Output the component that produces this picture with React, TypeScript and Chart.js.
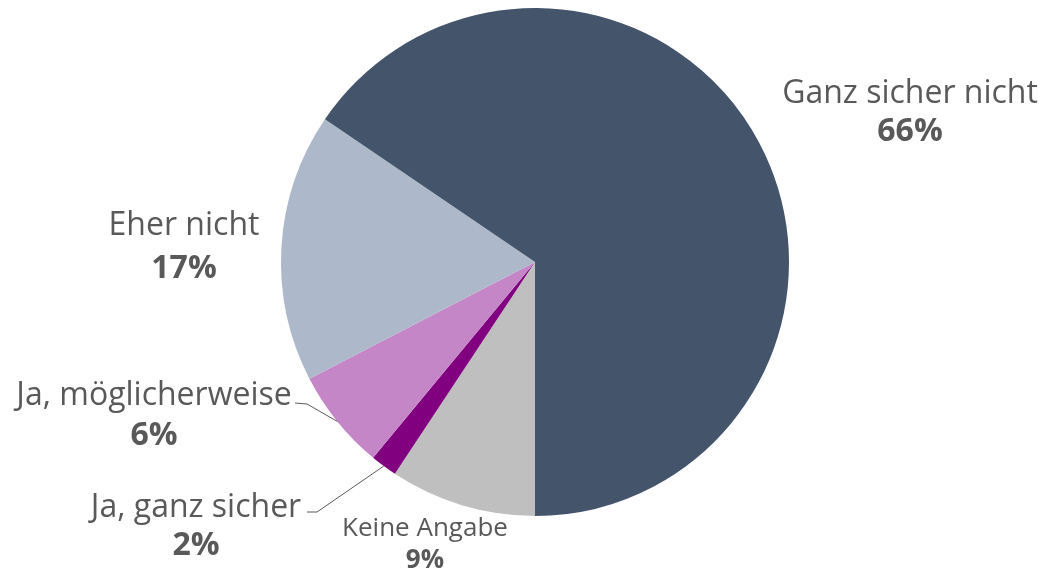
import React, { useEffect, useRef } from "react";
import { Chart, registerables } from "chart.js";

Chart.register(...registerables);

const categories = ["Keine Angabe", "Ja, ganz sicher", "Ja, möglicherweise", "Eher nicht", "Ganz sicher nicht"];
const values = [9.3, 1.7, 6.4, 17.1, 65.5];
const percentLabels = ["9%", "2%", "6%", "17%", "66%"];
const colors = ["#BFBFBF", "#800080", "#C586C7", "#ADB9CA", "#44546A"];

// label layout: offsets relative to pie centre (name baseline, percent baseline), font size
const labelLayout = [
  { dx: -110, nameDy: 274, pctDy: 306, size: 26 },
  { dx: -339, nameDy: 255, pctDy: 293, size: 32, leader: [[-218, 250], [-228, 250]] },
  { dx: -381, nameDy: 143, pctDy: 183, size: 32, leader: [[-228, 142], [-240, 141]] },
  { dx: -351, nameDy: -27, pctDy: 16, size: 32 },
  { dx: 375, nameDy: -159, pctDy: -121, size: 32 },
];

const labelPlugin = {
  id: "pieLabels",
  afterDraw(chart: any) {
    const ctx = chart.ctx;
    const meta = chart.getDatasetMeta(0);
    ctx.save();
    meta.data.forEach((arc: any, i: number) => {
      const { x, y, startAngle, endAngle, outerRadius } = arc.getProps(["x", "y", "startAngle", "endAngle", "outerRadius"], true);
      const L = labelLayout[i];
      const mid = (startAngle + endAngle) / 2;
      if (L.leader) {
        ctx.strokeStyle = "#595959";
        ctx.lineWidth = 1;
        ctx.beginPath();
        ctx.moveTo(x + Math.cos(mid) * outerRadius, y + Math.sin(mid) * outerRadius);
        L.leader.forEach((p: number[]) => ctx.lineTo(x + p[0], y + p[1]));
        ctx.stroke();
      }
      ctx.fillStyle = "#595959";
      ctx.textAlign = "center";
      ctx.textBaseline = "alphabetic";
      ctx.font = `${L.size}px "Open Sans"`;
      ctx.fillText(categories[i], x + L.dx, y + L.nameDy);
      ctx.font = `bold ${L.size}px "Open Sans"`;
      ctx.fillText(percentLabels[i], x + L.dx, y + L.pctDy);
    });
    ctx.restore();
  },
};

export default function App() {
  const ref = useRef<HTMLCanvasElement | null>(null);
  useEffect(() => {
    if (!ref.current) return;
    const chart = new Chart(ref.current, {
      type: "pie",
      data: {
        labels: categories,
        datasets: [
          {
            data: values,
            backgroundColor: colors,
            borderWidth: 0,
            hoverOffset: 0,
            offset: 0,
          },
        ],
      },
      options: {
        animation: false,
        responsive: false,
        rotation: 180,
        layout: { padding: { top: 8, bottom: 57, left: 281, right: 255 } },
        plugins: { legend: { display: false }, tooltip: { enabled: false } },
      },
      plugins: [labelPlugin],
    });
    return () => chart.destroy();
  }, []);
  return (
    <div style={{ position: "absolute", left: 0, top: 0, width: 1044, height: 573, background: "#fff" }}>
      <canvas ref={ref} width={1044} height={573} />
    </div>
  );
}
